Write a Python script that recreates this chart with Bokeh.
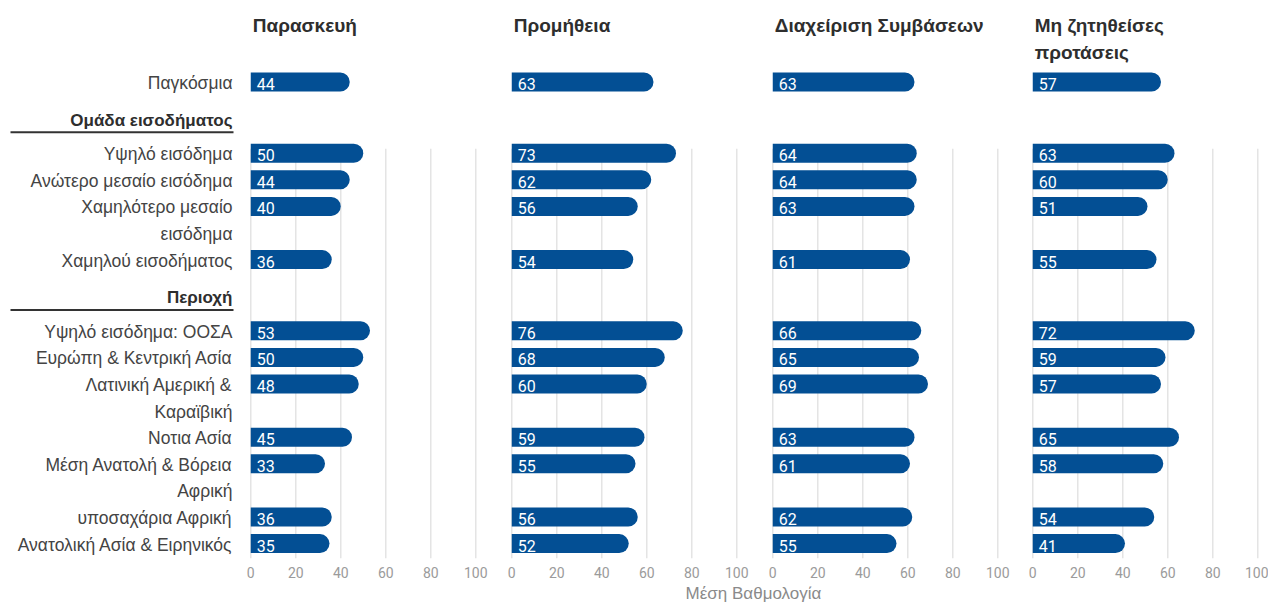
from bokeh.plotting import figure
from bokeh.layouts import row, column
from bokeh.models import Range1d, FixedTicker, ColumnDataSource
from bokeh.core.properties import value
from bokeh.embed import file_html
from bokeh.resources import INLINE

# ---------------- data ----------------
panel_titles = ["Παρασκευή", "Προμήθεια", "Διαχείριση Συμβάσεων", "Μη ζητηθείσες\nπροτάσεις"]

global_label = "Παγκόσμια"
income_header = "Ομάδα εισοδήματος"
income_labels = ["Υψηλό εισόδημα", "Ανώτερο μεσαίο εισόδημα",
                 "Χαμηλότερο μεσαίο\nεισόδημα", "Χαμηλού εισοδήματος"]
region_header = "Περιοχή"
region_labels = ["Υψηλό εισόδημα: ΟΟΣΑ", "Ευρώπη & Κεντρική Ασία",
                 "Λατινική Αμερική &\nΚαραϊβική", "Νοτια Ασία",
                 "Μέση Ανατολή & Βόρεια\nΑφρική", "υποσαχάρια Αφρική",
                 "Ανατολική Ασία & Ειρηνικός"]

# values per panel, rows in order: global, income groups (4), regions (7)
paraskevi   = [44, 50, 44, 40, 36, 53, 50, 48, 45, 33, 36, 35]
promitheia  = [63, 73, 62, 56, 54, 76, 68, 60, 59, 55, 56, 52]
diaxeirisi  = [63, 64, 64, 63, 61, 66, 65, 69, 63, 61, 62, 55]
mi_zitithe  = [57, 63, 60, 51, 55, 72, 59, 57, 65, 58, 54, 41]
panel_values = [paraskevi, promitheia, diaxeirisi, mi_zitithe]

ticks = [0, 20, 40, 60, 80, 100]
axis_title = "Μέση Βαθμολογία"

# ---------------- styling / layout ----------------
BAR_COLOR = "#034f94"
LABEL_COLOR = "#444444"
TITLE_COLOR = "#2e2e2e"
TICK_COLOR = "#9b9b9b"
GRID_COLOR = "#e4e4e4"
LABEL_FONT = "Liberation Sans"
NUM_FONT = "Roboto"

FRAME_H = 558
BOTTOM = 26
STEP = 26.6
TOP_ROW = 81.5
HEAD_BEFORE = 38.3
HEAD_GAP = 71.2

groups = [(None, [global_label]), (income_header, income_labels), (region_header, region_labels)]
item_y, line_texts, line_ys, head_texts, head_ys = [], [], [], [], []
last = None
for head, labels in groups:
    if head is None:
        y = TOP_ROW
    else:
        head_texts.append(head)
        head_ys.append(last + HEAD_BEFORE)
        y = last + HEAD_GAP
    for lab in labels:
        parts = lab.split("\n")
        item_y.append(y)
        for i, part in enumerate(parts):
            line_texts.append(part)
            line_ys.append(y + i * STEP)
        last = y + (len(parts) - 1) * STEP
        y = last + STEP

grid_top = item_y[1] - 4.5

y_range = Range1d(FRAME_H, 0)

# ---------------- label column ----------------
LABEL_W = 238
lab = figure(width=LABEL_W, height=FRAME_H + BOTTOM, x_range=Range1d(0, LABEL_W), y_range=y_range,
             toolbar_location=None, output_backend="svg", x_axis_location=None, y_axis_location=None,
             min_border=0, min_border_bottom=BOTTOM, min_border_top=0, min_border_left=0, min_border_right=0)
lab.outline_line_color = None
lab.grid.visible = False
lab.text(x=[232] * len(line_texts), y=[v + 1 for v in line_ys], text=line_texts,
         text_align="right", text_baseline="middle", text_font=value(LABEL_FONT),
         text_font_size="17.5px", text_color=LABEL_COLOR)
lab.text(x=[232] * len(head_texts), y=head_ys, text=head_texts,
         text_align="right", text_baseline="middle", text_font=value(LABEL_FONT),
         text_font_size="17px", text_font_style="bold", text_color=TITLE_COLOR)
lab.segment(x0=[10] * len(head_ys), x1=[233] * len(head_ys),
            y0=[h + 12 for h in head_ys], y1=[h + 12 for h in head_ys],
            line_color="#333333", line_width=2)

# ---------------- panels ----------------
right_borders = [21, 21, 20, 8]
panels = []
for k, (title, vals) in enumerate(zip(panel_titles, panel_values)):
    rb = right_borders[k]
    w = 10 + 230 + rb
    p = figure(width=w, height=FRAME_H + BOTTOM, x_range=Range1d(-1, 101.22), y_range=y_range,
               toolbar_location=None, output_backend="svg", y_axis_location=None,
               min_border=0, min_border_left=10, min_border_right=rb,
               min_border_top=0, min_border_bottom=BOTTOM)
    p.outline_line_color = None
    p.grid.visible = False
    # grid lines
    p.segment(x0=ticks, x1=ticks, y0=[grid_top] * len(ticks), y1=[FRAME_H] * len(ticks),
              line_color=GRID_COLOR, line_width=1.5)
    src = ColumnDataSource(dict(y=item_y, v=vals, t=[str(v) for v in vals]))
    p.hbar(y="y", left=0, right="v", height=19, source=src, fill_color=BAR_COLOR,
           line_color=None, border_radius=(0, 10, 10, 0))
    p.text(x=0, y="y", text="t", source=src, x_offset=6, y_offset=2,
           text_baseline="middle", text_align="left", text_color="white",
           text_font=value(NUM_FONT), text_font_size="16px")
    tlines = title.split("\n")
    p.text(x=[0] * len(tlines), y=[25 + i * 27 for i in range(len(tlines))], text=tlines,
           x_offset=2, text_baseline="middle", text_align="left",
           text_font=value(LABEL_FONT), text_font_size="19px", text_font_style="bold",
           text_color=TITLE_COLOR)
    ax = p.xaxis[0]
    ax.ticker = FixedTicker(ticks=ticks)
    ax.axis_line_color = None
    ax.major_tick_line_color = None
    ax.minor_tick_line_color = None
    ax.major_tick_out = 0
    ax.major_tick_in = 0
    ax.major_label_standoff = 8
    ax.major_label_text_font = NUM_FONT
    ax.major_label_text_font_size = "14px"
    ax.major_label_text_color = TICK_COLOR
    panels.append(p)

# ---------------- axis title ----------------
TOTAL_W = LABEL_W + sum(pp.width for pp in panels)
TF_H = 18
tf = figure(width=TOTAL_W, height=TF_H, x_range=Range1d(0, TOTAL_W), y_range=Range1d(TF_H, 0),
            toolbar_location=None, output_backend="svg", x_axis_location=None, y_axis_location=None,
            min_border=0, min_border_left=0, min_border_right=0, min_border_top=0, min_border_bottom=0)
tf.outline_line_color = None
tf.grid.visible = False
tf.text(x=[753], y=[8.5], text=[axis_title], text_align="center", text_baseline="middle",
        text_font=value(LABEL_FONT), text_font_size="17px", text_color="#8a8a8a")

layout = column(row(lab, *panels), tf)
open("out.html", "w").write(file_html(layout, INLINE))
